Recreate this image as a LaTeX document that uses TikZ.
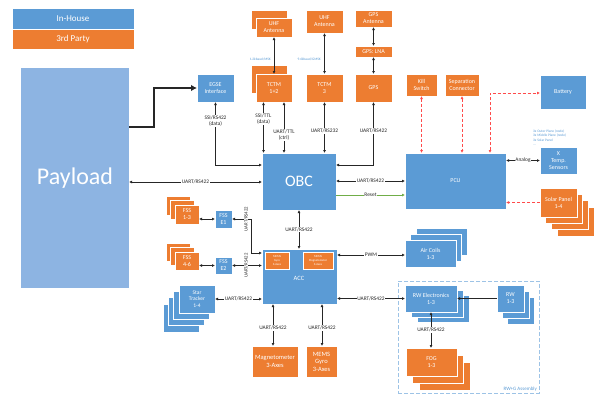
\documentclass[tikz,border=0pt]{standalone}
\usepackage{fontspec}
\setmainfont{Carlito}
\usetikzlibrary{arrows.meta}
\definecolor{obblue}{HTML}{5B9BD5}
\definecolor{oborange}{HTML}{ED7D31}
\definecolor{plblue}{HTML}{8DB4E2}
\definecolor{lnblue}{HTML}{9DC3E6}
\definecolor{rdash}{HTML}{FF4A4A}
\definecolor{grn}{HTML}{70AD47}
\definecolor{ink}{HTML}{262626}
\newcommand\bx[7]{%
 \pgfmathsetmacro\bxw{(#5)-(#3)}\pgfmathsetmacro\bxh{(#6)-(#4)}%
 \pgfmathsetmacro\bxx{((#3)+(#5))/2}\pgfmathsetmacro\bxy{((#4)+(#6))/2}%
 \node[#2, minimum width=\bxw pt, minimum height=\bxh pt] (#1) at (\bxx,\bxy) {#7};}
\def\splitoff#1/#2\relax{\def\sdx{#1}\def\sdy{#2}}
\newcommand\stk[9]{\splitoff#7\relax
 \foreach \k in {#8}{\bx{#1-b\k}{#2}{#3+(\k)*(\sdx)}{#4+(\k)*(\sdy)}{#5+(\k)*(\sdx)}{#6+(\k)*(\sdy)}{}}
 \bx{#1}{#2}{#3}{#4}{#5}{#6}{#9}}
\tikzset{
 base/.style={draw=white, line width=0.6pt, text=white, align=center, inner sep=0pt, outer sep=0pt, font=\fontsize{6}{7}\selectfont},
 bb/.style={base, fill=obblue},
 ob/.style={base, fill=oborange},
 lbl/.style={fill=white, inner sep=0.6pt, text=ink, font=\fontsize{5.4}{6.2}\selectfont, align=center},
 dar/.style={draw=ink, line width=0.6pt, {Latex[length=3pt,width=3pt]}-{Latex[length=3pt,width=3pt]}},
 sar/.style={draw=ink, line width=0.6pt, -{Latex[length=3pt,width=3pt]}},
 rdar/.style={draw=rdash, line width=0.8pt, dash pattern=on 3pt off 2pt, {Latex[length=3pt,width=3pt]}-{Latex[length=3pt,width=3pt]}},
 rsar/.style={draw=rdash, line width=0.8pt, dash pattern=on 3pt off 2pt, -{Latex[length=3pt,width=3pt]}},
 note/.style={text=obblue, inner sep=0pt, font=\fontsize{3.5}{4.5}\selectfont},
}
\begin{document}
\begin{tikzpicture}[x=1pt,y=-1pt]
\fill[white] (0,0) rectangle (597,394);
\useasboundingbox (0,0) rectangle (597,394);
% legend
\bx{leg1}{bb,font=\fontsize{9}{10}\selectfont}{12}{8}{134}{29}{In-House}
\bx{leg2}{ob,font=\fontsize{9}{10}\selectfont}{12}{29}{134}{49}{3rd Party}
% payload
\bx{payload}{base,fill=plblue,draw=none,font=\fontsize{24}{26}\selectfont}{21}{68}{129}{288}{Payload}
% top row
\bx{egse}{bb}{197}{74}{234}{102}{EGSE\\Interface}
\stk{uhf12}{ob}{256}{18}{292}{37}{-5/-8}{1}{UHF\\Antenna}
\stk{tctm12}{ob}{256}{74}{292}{102}{-5/-9}{1}{TCTM\\1+2}
\bx{uhf3}{ob}{306}{10}{343}{33}{UHF\\Antenna}
\bx{tctm3}{ob}{306}{74}{343}{102}{TCTM\\3}
\bx{gpsant}{ob}{355}{10}{392}{27}{GPS\\Antenna}
\bx{lna}{ob}{355}{46}{392}{57}{GPS: LNA}
\bx{gps}{ob}{355}{74}{392}{102}{GPS}
\bx{kill}{ob}{406}{74}{437}{96}{Kill\\Switch}
\bx{sep}{ob}{445}{74}{479}{96}{Separation\\Connector}
\bx{bat}{bb}{540}{75}{586}{109}{Battery}
% middle
\bx{obc}{bb,font=\fontsize{16}{18}\selectfont}{262}{153}{336}{210}{OBC}
\bx{pcu}{bb}{405}{153}{506}{209}{PCU}
\bx{temp}{bb}{540}{147}{577}{174}{X\\Temp.\\Sensors}
\stk{solar}{ob}{540}{188}{577}{217}{5.7/6.3}{3,2,1}{Solar Panel\\1-4}
% ACC
\bx{acc}{bb}{262}{249}{337}{304}{}
\node[text=white, font=\fontsize{6.5}{7.5}\selectfont] (acclbl) at (299,278) {ACC};
\bx{accgyro}{ob,line width=0.4pt,font=\fontsize{3}{3.6}\selectfont}{265}{252}{289}{269}{MEMS\\Gyro\\3-Axes}
\bx{accmag}{ob,line width=0.4pt,font=\fontsize{3}{3.6}\selectfont}{303}{252}{333}{269}{MEMS\\Magnetometer\\3-Axes}
% sensors left
\stk{fss13}{ob}{175}{205}{199}{224}{-4.5/-4.5}{2,1}{FSS\\1-3}
\bx{fsse1}{bb}{215}{210}{232}{228}{FSS\\E1}
\stk{fss46}{ob}{175}{252}{199}{270}{-4.5/-4.5}{2,1}{FSS\\4-6}
\bx{fsse2}{bb}{215}{257}{232}{274}{FSS\\E2}
\stk{star}{bb,font=\fontsize{5.5}{6.5}\selectfont}{179}{285}{215}{313}{-5.3/6.3}{3,2,1}{Star\\Tracker\\1-4}
% right lower
\stk{air}{bb}{405}{240}{456}{267}{5.5/-6}{2,1}{Air Coils\\1-3}
\bx{rwg}{draw=lnblue, line width=0.8pt, dash pattern=on 4pt off 2pt, inner sep=0pt, outer sep=0pt}{398}{281}{539}{393}{}
\node[anchor=south east, text=obblue, inner sep=0pt, font=\fontsize{5}{6}\selectfont] (rwglbl) at (537,391) {RW+G Assembly};
\stk{rwe}{bb}{405}{285}{457}{312}{6/5}{2,1}{RW Electronics\\1-3}
\stk{rw}{bb}{497}{285}{524}{312}{5/6}{2,1}{RW\\1-3}
\stk{fog}{ob}{406}{348}{457}{376}{6.5/7}{2,1}{FOG\\1-3}
% bottom
\bx{mag}{ob,font=\fontsize{6.5}{7.5}\selectfont}{252}{346}{298}{377}{Magnetometer\\3-Axes}
\bx{gyro}{ob,font=\fontsize{6.5}{7.5}\selectfont}{306}{346}{337}{377}{MEMS\\Gyro\\3-Axes}
% notes
\node[note, anchor=east] (bd12) at (271,59) {1.2kbaud/MSK};
\node[note, anchor=east] (bd3) at (321,59) {9.6kbaud/GMSK};
\node[note, anchor=north west, align=left] (tnote) at (533,129.5) {3x Outer Plane (node)\\3x Middle Plane (node)\\3x Solar Panel\\...};
% ---- connectors ----
\draw[ink, line width=2.4pt, -{Latex[length=6pt,width=6.5pt]}] (payload.east |- 0,127) -- (154,127) |- (egse.west);
\draw[dar] (egse.south) |- (obc.west |- 0,165) node[lbl, pos=0.15] {SSI/RS422\\(data)};
\draw[dar] (263.5,0 |- tctm12.south) -- (263.5,0 |- obc.north) node[lbl, pos=0.33] {SSI/TTL\\(data)};
\draw[dar] (284,0 |- tctm12.south) -- (284,0 |- obc.north) node[lbl, pos=0.64] {UART/TTL\\(ctrl)};
\draw[dar] (tctm3.south) -- (tctm3.south |- obc.north) node[lbl, pos=0.57] {UART/RS232};
\draw[dar] (gps.south) |- (obc.east |- 0,165) node[lbl, pos=0.23] {UART/RS422};
\draw[dar] (274,0 |- uhf12.south) -- (274,0 |- tctm12.north);
\draw[dar] (uhf3.south) -- (tctm3.north);
\draw[dar] (gpsant.south) -- (lna.north);
\draw[dar] (lna.south) -- (gps.north);
\draw[dar] (obc.west |- 0,182) -- (payload.east |- 0,182) node[lbl, midway] {UART/RS422};
\draw[dar] (obc.east |- 0,181) -- (pcu.west |- 0,181) node[lbl, midway] {UART/RS422};
\draw[grn, line width=0.6pt, -{Latex[length=3pt,width=3pt]}] (obc.east |- 0,195) -- (pcu.west |- 0,195) node[lbl, midway] {Reset};
\draw[rdar] (kill.south) -- (kill.south |- pcu.north);
\draw[rdar] (sep.south) -- (sep.south |- pcu.north);
\draw[rdar] (490,0 |- pcu.north) |- (bat.west |- 0,93);
\draw[rsar] (solar.west) -- (pcu.east |- solar.west);
\draw[dar] (pcu.east |- temp.west) -- (temp.west) node[lbl, midway] {Analog};
\draw[dar] (299,0 |- obc.south) -- (299,0 |- acc.north) node[lbl, midway] {UART/RS422};
\draw[dar] (fsse1.west) -- (fsse1.west -| fss13.east);
\draw[dar] (fsse1.east) -- (251,0 |- fsse1.east) |- (acc.west |- 0,253);
\node[lbl, rotate=90, font=\fontsize{4.8}{5.4}\selectfont] (l1) at (246,219) {UART/RS422};
\draw[dar] (fsse2.west) -- (fsse2.west -| fss46.east);
\draw[dar] (fsse2.east) -- (acc.west |- fsse2.east);
\node[lbl, rotate=90, font=\fontsize{4.8}{5.4}\selectfont] (l2) at (246,265.5) {UART/RS422};
\draw[dar] (star.east) -- (acc.west |- star.east) node[lbl, midway] {UART/RS422};
\draw[dar] (273,0 |- acc.south) -- (273,0 |- mag.north) node[lbl, pos=0.57] {UART/RS422};
\draw[dar] (322,0 |- acc.south) -- (322,0 |- gyro.north) node[lbl, pos=0.57] {UART/RS422};
\draw[dar] (acc.east |- 0,255) -- (air.west |- 0,255) node[lbl, midway] {PWM};
\draw[dar] (acc.east |- rwe.west) -- (rwe.west) node[lbl, midway] {UART/RS422};
\draw[sar] (rw.west) -- (rwe.east);
\draw[dar] (431,0 |- rwe.south) -- (431,0 |- fog.north) node[lbl, midway] {UART/RS422};
\end{tikzpicture}
\end{document}
